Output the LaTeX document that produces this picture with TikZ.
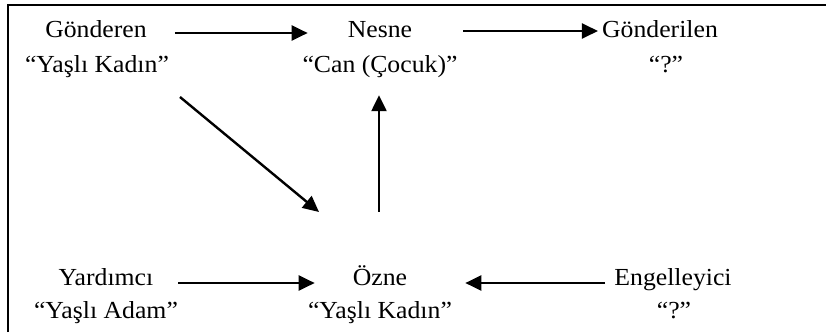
\documentclass[tikz,border=0pt]{standalone}
\usepackage{fontspec}
\setmainfont{Liberation Serif}[FakeStretch=1.05]
\usetikzlibrary{arrows.meta}
\begin{document}
\begin{tikzpicture}[x=1pt,y=-1pt,
  lbl/.style={inner sep=0pt, anchor=base, text height=16pt, text depth=5pt, font=\fontsize{24.5}{29}\selectfont},
  arr/.style={line width=2.4pt, -{Triangle[length=16pt,width=15pt]}}]
\useasboundingbox (0,0) rectangle (826,332);
% border (top and left edges visible)
\draw[line width=2.4pt] (8,332) -- (8,5) -- (826,5);
% nodes
\node[lbl] (gonT) at (96,37) {Gönderen};
\node[lbl] (gonS) at (97,72) {“Yaşlı Kadın”};
\node[lbl] (nesT) at (380,37) {Nesne};
\node[lbl] (nesS) at (380,72) {“Can (Çocuk)”};
\node[lbl] (gdlT) at (660,37) {Gönderilen};
\node[lbl] (gdlS) at (666,72) {“?”};
\node[lbl] (yarT) at (106,285) {Yardımcı};
\node[lbl] (yarS) at (106,318) {“Yaşlı Adam”};
\node[lbl] (ozT) at (380,285) {Özne};
\node[lbl] (ozS) at (380,318) {“Yaşlı Kadın”};
\node[lbl] (engT) at (673,285) {Engelleyici};
\node[lbl] (engS) at (674,318) {“?”};
% connectors
\draw[arr, shorten <=28pt, shorten >=40pt] ([yshift=-1.5pt]gonT.east) -- ([yshift=-1.5pt]nesT.west);
\draw[arr, shorten <=51pt, shorten >=4pt] ([yshift=0.5pt]nesT.east) -- ([yshift=0.5pt]gdlT.west);
\coordinate (dStart) at (180,97);
\coordinate (dEnd) at (319,212);
\draw[arr] (dStart) -- (dEnd);
\draw[arr, shorten <=57pt, shorten >=18pt] ([xshift=-1pt]ozT.north) -- ([xshift=-1pt]nesS.south);
\draw[arr, shorten <=25pt, shorten >=38pt] ([yshift=-3.5pt]yarT.east) -- ([yshift=-3.5pt]ozT.west);
\draw[arr, shorten <=9pt, shorten >=58pt] ([yshift=-3.5pt]engT.west) -- ([yshift=-3.5pt]ozT.east);
\end{tikzpicture}
\end{document}
